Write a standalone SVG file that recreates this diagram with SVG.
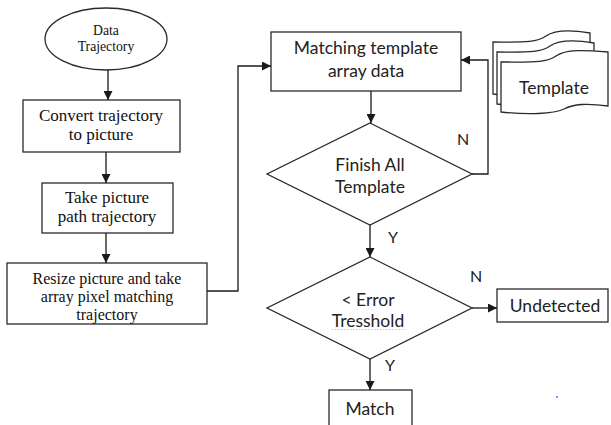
<svg xmlns="http://www.w3.org/2000/svg" width="611" height="425" viewBox="0 0 611 425">
  <defs>
    <marker id="arrow" viewBox="0 0 10 10" refX="10" refY="5" markerWidth="9" markerHeight="9" markerUnits="userSpaceOnUse" orient="auto">
      <path d="M0,0 L10,5 L0,10 Z" fill="#1a1a1a"/>
    </marker>
    <style>
      .shape { fill: #ffffff; stroke: #2a2a2a; stroke-width: 1.3; }
      .line { fill: none; stroke: #1a1a1a; stroke-width: 1.3; marker-end: url(#arrow); }
      .serif { fill: #111; text-anchor: middle; }
      .sans { fill: #222; text-anchor: middle; }
      .big { font-size: 17px; }
      .mid { font-size: 16px; }
      .small { font-size: 13.7px; }
      .label { font-size: 17.5px; }
    </style>
  </defs>
  <rect width="611" height="425" fill="#ffffff"/>

  <g font-family="'Liberation Serif', 'DejaVu Serif', serif">
    <g id="data-trajectory">
      <ellipse class="shape" cx="106" cy="39" rx="61" ry="31"/>
      <text class="serif small" x="106" y="35">Data</text>
      <text class="serif small" x="106" y="51">Trajectory</text>
    </g>

    <g id="convert-trajectory">
      <rect class="shape" x="23" y="100" width="157" height="52"/>
      <text class="serif big" x="101" y="121">Convert trajectory</text>
      <text class="serif big" x="101" y="140">to picture</text>
    </g>

    <g id="take-path">
      <rect class="shape" x="42" y="183" width="131" height="50"/>
      <text class="serif big" x="107" y="203">Take picture</text>
      <text class="serif big" x="107" y="222">path trajectory</text>
    </g>

    <g id="resize-picture">
      <rect class="shape" x="7" y="263" width="200" height="61"/>
      <text class="serif mid" x="107" y="284">Resize picture and take</text>
      <text class="serif mid" x="107" y="302">array pixel matching</text>
      <text class="serif mid" x="107" y="320">trajectory</text>
    </g>
  </g>

  <g font-family="Lato, 'Open Sans', 'Liberation Sans', sans-serif">
    <g id="matching-template">
      <rect class="shape" x="271" y="32" width="190" height="59"/>
      <text class="sans label" x="366" y="54">Matching template</text>
      <text class="sans label" x="366" y="77">array data</text>
    </g>

    <g id="template-store">
      <path class="shape" d="M493,42 C522,42 536,43 546,36 C556,29 572,30 590,33 L590,88 C570,85 560,86 550,91 C540,96 518,97 493,94 Z"/>
      <path class="shape" d="M497,52 C526,52 540,53 550,46 C560,39 576,40 594,43 L594,98 C574,95 564,96 554,101 C544,106 522,107 497,104 Z"/>
      <path class="shape" d="M501,62 C532,62 546,63 556,56 C566,49 584,50 608,52 L608,106 C586,103 574,104 564,109 C553,114 528,115 501,112 Z"/>
      <text class="sans label" x="554" y="94">Template</text>
    </g>

    <g id="finish-all">
      <polygon class="shape" points="370,123 472,174 370,225 267,174"/>
      <text class="sans label" x="370" y="171">Finish All</text>
      <text class="sans label" x="370" y="193">Template</text>
    </g>

    <g id="error-threshold">
      <polygon class="shape" points="370,257 472,308 370,359 267,308"/>
      <text class="sans label" x="368" y="306">&lt; Error</text>
      <text class="sans label" x="368" y="327">Tresshold</text>
      <line x1="332" y1="329.5" x2="405" y2="329.5" stroke="#e88" stroke-width="1" stroke-dasharray="1.5 1.5" opacity="0.6"/>
    </g>

    <g id="undetected">
      <rect class="shape" x="497" y="289" width="111" height="33"/>
      <text class="sans label" x="555" y="312">Undetected</text>
    </g>

    <g id="match">
      <rect class="shape" x="329" y="390" width="83" height="40"/>
      <text class="sans label" x="370" y="415">Match</text>
    </g>

    <g id="branch-labels" class="sans" font-size="16">
      <text x="463" y="145">N</text>
      <text x="393" y="243">Y</text>
      <text x="476" y="282">N</text>
      <text x="390" y="371">Y</text>
    </g>
  </g>

  <g id="connectors">
    <path class="line" d="M108,70 L108,100"/>
    <path class="line" d="M106,152 L106,183"/>
    <path class="line" d="M106,233 L106,263"/>
    <path class="line" d="M207,291 L238,291 L238,66 L271,66"/>
    <path class="line" d="M371,91 L371,123"/>
    <path class="line" d="M472,174 L488,174 L488,60 L461,60"/>
    <path class="line" d="M370,225 L370,257"/>
    <path class="line" d="M472,308 L497,308"/>
    <path class="line" d="M370,359 L370,390"/>
  </g>

  <circle cx="557" cy="397" r="1" fill="#3344ee" opacity="0.8"/>
</svg>
